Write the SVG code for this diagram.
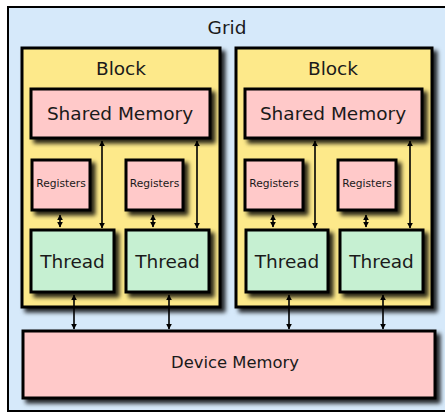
<svg xmlns="http://www.w3.org/2000/svg" width="445" height="413" viewBox="0 0 445 413">
  <defs>
    <filter id="shadow" x="-10%" y="-10%" width="130%" height="130%">
      <feDropShadow dx="4" dy="4" stdDeviation="2.2" flood-color="#000" flood-opacity="0.85"/>
    </filter>
    <marker id="head" viewBox="0 0 10 10" refX="9" refY="5" markerWidth="6" markerHeight="6" markerUnits="userSpaceOnUse" orient="auto-start-reverse">
      <path d="M0,0 L10,5 L0,10 z" fill="#000"/>
    </marker>
    <style>
      .grid { fill: #d6e9fa; stroke: #000; stroke-width: 2; }
      .block { fill: #fde98a; stroke: #000; stroke-width: 3; filter: url(#shadow); }
      .mem { fill: #ffc9c9; stroke: #000; stroke-width: 3; filter: url(#shadow); }
      .thread { fill: #c6f0d2; stroke: #000; stroke-width: 3; filter: url(#shadow); }
      text { font-family: "DejaVu Sans", Verdana, sans-serif; fill: #1a1a1a; text-anchor: middle; }
      .big { font-size: 18.5px; }
      .small { font-size: 10.7px; }
      .dev { font-size: 16.4px; }
      .link { stroke: #000; stroke-width: 1.6; fill: none; marker-start: url(#head); marker-end: url(#head); }
    </style>
  </defs>

  <g id="grid">
    <rect class="grid" x="8" y="7" width="445" height="404"/>
    <text class="big" x="227" y="34">Grid</text>
  </g>

  <g id="block-1">
    <rect class="block" x="22" y="48" width="198" height="259"/>
    <text class="big" x="121" y="75">Block</text>
  </g>
  <g id="block-2">
    <rect class="block" x="236" y="48" width="196" height="259"/>
    <text class="big" x="333" y="75">Block</text>
  </g>

  <g id="shared-memory-1">
    <rect class="mem" x="31" y="89" width="179" height="49"/>
    <text class="big" x="120" y="120">Shared Memory</text>
  </g>
  <g id="shared-memory-2">
    <rect class="mem" x="245" y="89" width="177" height="49"/>
    <text class="big" x="333" y="120">Shared Memory</text>
  </g>

  <g id="registers-1a">
    <rect class="mem" x="32" y="160" width="58" height="50"/>
    <text class="small" x="61" y="187">Registers</text>
  </g>
  <g id="registers-1b">
    <rect class="mem" x="126" y="160" width="57" height="50"/>
    <text class="small" x="154.5" y="187">Registers</text>
  </g>
  <g id="registers-2a">
    <rect class="mem" x="245" y="160" width="58" height="50"/>
    <text class="small" x="274" y="187">Registers</text>
  </g>
  <g id="registers-2b">
    <rect class="mem" x="338" y="160" width="58" height="50"/>
    <text class="small" x="367" y="187">Registers</text>
  </g>

  <g id="thread-1a">
    <rect class="thread" x="31" y="230" width="83" height="62"/>
    <text class="big" x="72.5" y="268">Thread</text>
  </g>
  <g id="thread-1b">
    <rect class="thread" x="126" y="230" width="83" height="62"/>
    <text class="big" x="167.5" y="268">Thread</text>
  </g>
  <g id="thread-2a">
    <rect class="thread" x="246" y="230" width="82" height="62"/>
    <text class="big" x="287" y="268">Thread</text>
  </g>
  <g id="thread-2b">
    <rect class="thread" x="340" y="230" width="83" height="62"/>
    <text class="big" x="381.5" y="268">Thread</text>
  </g>

  <g id="device-memory">
    <rect class="mem" x="23" y="331" width="412" height="67"/>
    <text class="dev" x="235" y="368">Device Memory</text>
  </g>

  <g id="connectors">
    <!-- registers to thread -->
    <line class="link" x1="60" y1="215" x2="60" y2="227"/>
    <line class="link" x1="153" y1="215" x2="153" y2="227"/>
    <line class="link" x1="273" y1="215" x2="273" y2="227"/>
    <line class="link" x1="366" y1="215" x2="366" y2="227"/>
    <!-- shared memory to thread -->
    <line class="link" x1="102" y1="141" x2="102" y2="228"/>
    <line class="link" x1="197" y1="141" x2="197" y2="228"/>
    <line class="link" x1="315" y1="141" x2="315" y2="228"/>
    <line class="link" x1="410" y1="141" x2="410" y2="228"/>
    <!-- thread to device memory -->
    <line class="link" x1="74" y1="295" x2="74" y2="329"/>
    <line class="link" x1="169" y1="295" x2="169" y2="329"/>
    <line class="link" x1="289" y1="295" x2="289" y2="329"/>
    <line class="link" x1="383" y1="295" x2="383" y2="329"/>
  </g>
</svg>
